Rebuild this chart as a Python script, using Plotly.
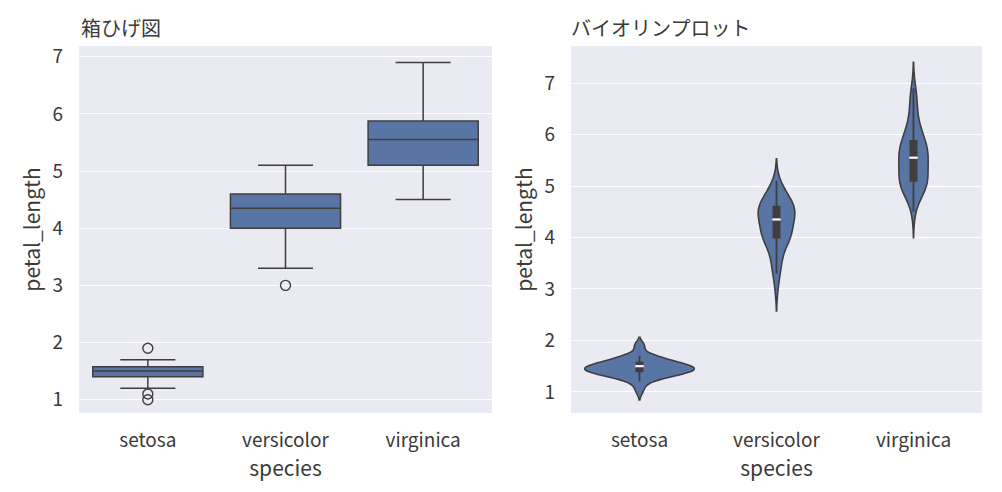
import numpy as np
import plotly.graph_objects as go
from plotly.subplots import make_subplots

# iris petal_length per species
species = ["setosa", "versicolor", "virginica"]
setosa = [1.4, 1.4, 1.3, 1.5, 1.4, 1.7, 1.4, 1.5, 1.4, 1.5, 1.5, 1.6, 1.4, 1.1, 1.2,
          1.5, 1.3, 1.4, 1.7, 1.5, 1.7, 1.5, 1.0, 1.7, 1.9, 1.6, 1.6, 1.5, 1.4, 1.6,
          1.6, 1.5, 1.5, 1.4, 1.5, 1.2, 1.3, 1.4, 1.3, 1.5, 1.3, 1.3, 1.3, 1.6, 1.9,
          1.4, 1.6, 1.4, 1.5, 1.4]
versicolor = [4.7, 4.5, 4.9, 4.0, 4.6, 4.5, 4.7, 3.3, 4.6, 3.9, 3.5, 4.2, 4.0, 4.7, 3.6,
              4.4, 4.5, 4.1, 4.5, 3.9, 4.8, 4.0, 4.9, 4.7, 4.3, 4.4, 4.8, 5.0, 4.5, 3.5,
              3.8, 3.7, 3.9, 5.1, 4.5, 4.5, 4.7, 4.4, 4.1, 4.0, 4.4, 4.6, 4.0, 3.3, 4.2,
              4.2, 4.2, 4.3, 3.0, 4.1]
virginica = [6.0, 5.1, 5.9, 5.6, 5.8, 6.6, 4.5, 6.3, 5.8, 6.1, 5.1, 5.3, 5.5, 5.0, 5.1,
             5.3, 5.5, 6.7, 6.9, 5.0, 5.7, 4.9, 6.7, 4.9, 5.7, 6.0, 4.8, 4.9, 5.6, 5.8,
             6.1, 6.4, 5.6, 5.1, 5.6, 6.1, 5.6, 5.5, 4.8, 5.4, 5.6, 5.1, 5.1, 5.9, 5.7,
             5.2, 5.0, 5.2, 5.4, 5.1]
groups = [setosa, versicolor, virginica]
y_ticks = [1, 2, 3, 4, 5, 6, 7]

FILL = "#5875a4"
LINE = "#3f3f3f"
FONT = "Noto Sans CJK JP"
TXT = "#3a3a3a"

# page body has an 8px margin, so the figure is 994x484 placed at (8, 8)
W, H, OFF = 994, 484, 8


def px_x(px):
    return (px - OFF) / W


def px_y(py):
    return 1 - (py - OFF) / H


def box_stats(vals):
    # numpy-style quartiles and 1.5*IQR whiskers, like seaborn
    a = np.array(vals)
    q1, med, q3 = np.percentile(a, [25, 50, 75])
    iqr = q3 - q1
    lo = a[a >= q1 - 1.5 * iqr].min()
    hi = a[a <= q3 + 1.5 * iqr].max()
    out = a[(a < lo) | (a > hi)]
    return q1, med, q3, lo, hi, np.unique(out)


def kde_peak(vals, bw):
    a = np.array(vals)
    grid = np.linspace(a.min() - 2 * bw, a.max() + 2 * bw, 400)
    d = np.exp(-0.5 * ((grid[:, None] - a[None, :]) / bw) ** 2).sum(axis=1)
    return d.max() / (len(a) * bw * np.sqrt(2 * np.pi))


stats = [box_stats(g) for g in groups]
bws = [np.std(g, ddof=1) * len(g) ** -0.2 for g in groups]
peaks = [kde_peak(g, b) for g, b in zip(groups, bws)]

fig = make_subplots(rows=1, cols=2)

# left: box plot
fig.add_trace(go.Box(
    x=species,
    q1=[s[0] for s in stats], median=[s[1] for s in stats], q3=[s[2] for s in stats],
    lowerfence=[s[3] for s in stats], upperfence=[s[4] for s in stats],
    fillcolor=FILL,
    line=dict(color=LINE, width=1.5),
    whiskerwidth=0.5,
    width=0.8,
    hoverinfo="skip",
    showlegend=False,
), row=1, col=1)
out_x = [sp for sp, s in zip(species, stats) for _ in s[5]]
out_y = [float(v) for s in stats for v in s[5]]
fig.add_trace(go.Scatter(
    x=out_x, y=out_y, mode="markers",
    marker=dict(symbol="circle-open", size=10, color=LINE, line=dict(width=1.4)),
    hoverinfo="skip", showlegend=False,
), row=1, col=1)

# right: violin plot (Scott bandwidth, area-normalised widths)
for sp, g, bw, pk in zip(species, groups, bws, peaks):
    fig.add_trace(go.Violin(
        x=[sp] * len(g), y=g,
        name=sp,
        bandwidth=bw,
        spanmode="soft",
        scalemode="width",
        width=0.8 * pk / max(peaks),
        fillcolor=FILL,
        opacity=1,
        line=dict(color=LINE, width=1.6),
        points=False,
        box=dict(visible=False),
        meanline=dict(visible=False),
        hoverinfo="skip",
        showlegend=False,
    ), row=1, col=2)

# inner box of the violins
fig.add_trace(go.Box(
    x=species,
    q1=[s[0] for s in stats], median=[s[1] for s in stats], q3=[s[2] for s in stats],
    lowerfence=[s[3] for s in stats], upperfence=[s[4] for s in stats],
    fillcolor=LINE,
    line=dict(color=LINE, width=1.8),
    whiskerwidth=0,
    width=0.045,
    hoverinfo="skip",
    showlegend=False,
), row=1, col=2)
fig.add_trace(go.Scatter(
    x=species, y=[s[1] for s in stats], mode="markers",
    marker=dict(symbol="line-ew", size=6, line=dict(color="white", width=2.2)),
    hoverinfo="skip", showlegend=False,
), row=1, col=2)

axis_common = dict(
    zeroline=False, showline=False, ticks="", automargin=False,
    tickfont=dict(family=FONT, size=19, color=TXT),
    title_font=dict(family=FONT, size=21, color=TXT),
)
fig.update_xaxes(**axis_common, showgrid=False,
                 categoryorder="array", categoryarray=species,
                 range=[-0.5, 2.5], ticklabelstandoff=14,
                 title_text="species", title_standoff=2)
fig.update_yaxes(**axis_common, showgrid=True, gridcolor="white", gridwidth=1.3,
                 tickvals=y_ticks, ticklabelstandoff=15,
                 title_text="petal_length", title_standoff=6)

fig.update_layout(
    width=W, height=H,
    margin=dict(l=0, r=0, t=0, b=0),
    paper_bgcolor="white",
    plot_bgcolor="#eaeaf2",
    violinmode="overlay",
    boxmode="overlay",
    xaxis=dict(domain=[px_x(79), px_x(492)]),
    xaxis2=dict(domain=[px_x(571), px_x(982)]),
    yaxis=dict(domain=[px_y(413), px_y(46)], range=[0.767, 7.187]),
    yaxis2=dict(domain=[px_y(413), px_y(46)], range=[0.59, 7.72]),
    font=dict(family=FONT, color=TXT),
    annotations=[
        dict(text="箱ひげ図", x=px_x(79), y=px_y(27), xref="paper", yref="paper",
             xanchor="left", yanchor="middle", showarrow=False,
             font=dict(family=FONT, size=20, color=TXT)),
        dict(text="バイオリンプロット", x=px_x(569), y=px_y(27), xref="paper", yref="paper",
             xanchor="left", yanchor="middle", showarrow=False,
             font=dict(family=FONT, size=20, color=TXT)),
    ],
)

fig.write_html("out.html")
